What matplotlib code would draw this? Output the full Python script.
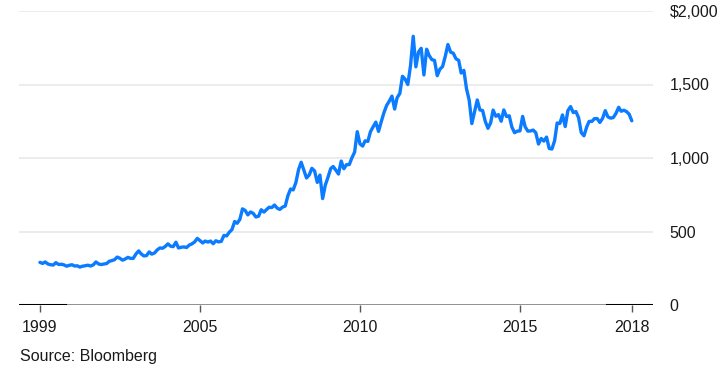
import datetime as dt
import pandas as pd
import matplotlib
matplotlib.use("Agg")
import matplotlib.pyplot as plt
import matplotlib.dates as mdates

plt.rcParams["font.family"] = ["Liberation Sans", "DejaVu Sans"]

# month-end gold price, Dec 1999 .. Jun 2018 (USD per ounce)
start_month = "1999-12-31"
end_month = "2018-06-30"
gold_price = [
    290,
    283, 293, 279, 274, 272, 288, 276, 277, 273, 264, 270, 274,
    265, 267, 258, 264, 267, 271, 265, 273, 293, 279, 275, 279,
    282, 297, 302, 308, 326, 318, 305, 313, 324, 317, 317, 347,
    368, 348, 334, 336, 361, 346, 354, 375, 388, 386, 398, 416,
    400, 397, 427, 388, 393, 395, 391, 408, 416, 429, 453, 438,
    422, 435, 428, 435, 417, 437, 429, 433, 473, 470, 495, 513,
    568, 556, 582, 654, 643, 613, 633, 623, 599, 604, 648, 632,
    650, 665, 663, 680, 659, 650, 666, 673, 743, 789, 783, 834,
    923, 971, 916, 864, 885, 930, 912, 834, 884, 724, 815, 869,
    928, 942, 917, 891, 979, 927, 955, 955, 1001, 1040, 1179, 1096,
    1081, 1117, 1113, 1179, 1213, 1244, 1181, 1247, 1307, 1357, 1386, 1421,
    1333, 1410, 1439, 1556, 1536, 1500, 1628, 1828, 1620, 1722, 1746, 1565,
    1740, 1697, 1669, 1664, 1560, 1604, 1622, 1692, 1772, 1720, 1713, 1675,
    1664, 1578, 1596, 1472, 1393, 1234, 1313, 1395, 1327, 1323, 1250, 1202,
    1240, 1326, 1284, 1295, 1250, 1327, 1282, 1287, 1210, 1172, 1183, 1184,
    1283, 1213, 1183, 1184, 1190, 1172, 1095, 1133, 1115, 1142, 1065, 1061,
    1118, 1238, 1235, 1293, 1214, 1322, 1350, 1309, 1316, 1273, 1173, 1151,
    1211, 1249, 1249, 1268, 1268, 1242, 1269, 1322, 1280, 1271, 1275, 1303,
    1345, 1318, 1325, 1316, 1298, 1253,
]
dates = pd.date_range(start_month, end_month, freq="ME")

x_tick_dates = [dates[0], pd.Timestamp("2005-01-01"), pd.Timestamp("2010-01-01"),
                pd.Timestamp("2015-01-01"), dates[-1]]
x_tick_labels = ["1999", "2005", "2010", "2015", "2018"]
y_ticks = [0, 500, 1000, 1500, 2000]
y_tick_labels = ["0", "500", "1,000", "1,500", "$2,000"]

text_color = "#1a1a1a"
line_color = "#0b7bff"

fig = plt.figure(figsize=(7.23, 3.68), dpi=100)
ax = fig.add_axes([19 / 723, 63 / 368, 634 / 723, 294 / 368])

ax.plot(dates, gold_price, color=line_color, linewidth=2.4,
        solid_joinstyle="round", solid_capstyle="round", zorder=3)

ax.set_xlim(dt.datetime(1999, 5, 6), dt.datetime(2019, 2, 27))
ax.set_ylim(0, 2000)

# grid lines and baseline
for v in y_ticks[1:]:
    ax.axhline(v, color="#ebebeb", linewidth=1.3, zorder=1)
ax.axhline(0, color="#707070", linewidth=1.8, zorder=2)
ax.axhline(0, xmin=0, xmax=0.073, color="black", linewidth=2.2, zorder=2.5)
ax.axhline(0, xmin=0.927, xmax=1, color="black", linewidth=2.2, zorder=2.5)

for side in ["top", "right", "left", "bottom"]:
    ax.spines[side].set_visible(False)

ax.set_xticks(x_tick_dates)
ax.set_xticklabels(x_tick_labels)
ax.tick_params(axis="x", length=5, width=1, color="#555555", pad=6,
               labelsize=11.5, labelcolor=text_color)

ax.yaxis.tick_right()
ax.set_yticks(y_ticks)
ax.set_yticklabels(y_tick_labels)
ax.tick_params(axis="y", length=0, pad=12, labelsize=11.5, labelcolor=text_color)
for lbl in ax.get_yticklabels():
    lbl.set_horizontalalignment("left")

fig.text(20 / 723, 1 - 356 / 368, "Source: Bloomberg", fontsize=11.5,
         color=text_color, ha="left", va="center")

fig.savefig("out.png", dpi=100)
